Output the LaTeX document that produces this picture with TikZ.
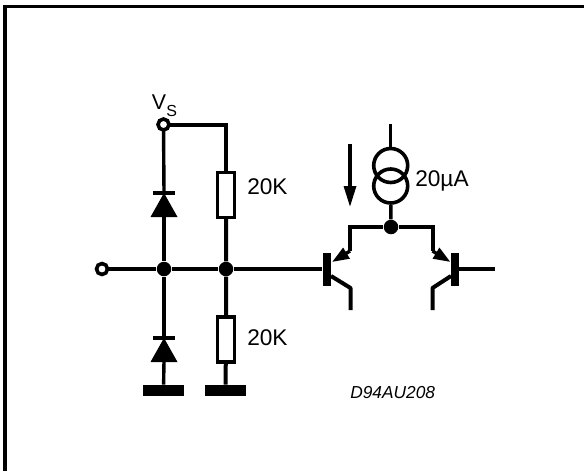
\documentclass[tikz,border=0pt]{standalone}
\usepackage{fontspec}
\setmainfont{Liberation Sans}
\usetikzlibrary{arrows.meta}
\tikzset{
  wire/.style={line width=4pt*0.75,line join=miter},
  thin wire/.style={line width=3.4pt*0.75},
  term/.style={circle,draw,fill=white,line width=3.6pt*0.75,minimum size=11pt*0.75,inner sep=0pt,outer sep=0pt},
  junction/.style={circle,fill=black,minimum size=14.5pt*0.75,inner sep=0pt},
  resistor/.style={rectangle,draw,fill=white,line width=3.4pt*0.75,minimum width=16.5pt*0.75,minimum height=45pt*0.75,inner sep=0pt},
  gnd/.style={rectangle,fill=black,minimum height=10.7pt*0.75,inner sep=0pt},
  basebar/.style={rectangle,fill=black,minimum width=8pt*0.75,minimum height=33pt*0.75,inner sep=0pt},
  source/.style={circle,draw,line width=3.6pt*0.75,minimum size=34pt*0.75,inner sep=0pt},
  lbl/.style={inner sep=0pt,anchor=west,font=\fontsize{17pt}{19pt}\selectfont},
  code/.style={inner sep=0pt,anchor=west,font=\fontsize{13pt}{15pt}\selectfont\itshape},
  emit/.style={line width=3.4pt*0.75,-{Triangle[length=17pt*0.75,width=12pt*0.75]}},
}
\newcommand{\diodeshape}[2]{%
  \fill (#1,#2) -- (#1+13.5,#2+24) -- (#1-13.5,#2+24) -- cycle;
  \fill (#1-11,#2-1.7) rectangle (#1+11,#2+1.7);
}
\begin{document}
\begin{tikzpicture}[x=0.75pt,y=-0.75pt]
\useasboundingbox (0,0) rectangle (584,471);
\draw[line width=3.3pt*0.75] (5,471) -- (5,6.5) -- (584,6.5);
% nodes
\node[term] (vs) at (163.5,124.5) {};
\node[term] (in) at (102,269) {};
\node[junction] (j1) at (164,269) {};
\node[junction] (j2) at (226,269) {};
\node[junction] (j3) at (391,227) {};
\coordinate (corner) at (226,124.5);
\node[resistor] (r1) at (226,195) {};
\node[resistor] (r2) at (226,339.5) {};
\node[gnd,minimum width=40.5pt*0.75] (g1) at (163.5,390.3) {};
\node[gnd,minimum width=41pt*0.75] (g2) at (225.5,390.3) {};
\coordinate (d1k) at (164,193);
\coordinate (d1a) at (164,216);
\coordinate (d2k) at (164,338);
\coordinate (d2a) at (164,361);
\node[basebar] (q1) at (326.7,269) {};
\node[basebar] (q2) at (455,269) {};
\node[source] (s1) at (390.7,165.5) {};
\node[source] (s2) at (390.7,186) {};
\coordinate (stop) at (390.7,124);
\coordinate (q1e) at (350,251);
\coordinate (q1et) at (332,262);
\coordinate (q1c) at (350.5,288);
\coordinate (q1cb) at (331,276);
\coordinate (q1o) at (350.5,310);
\coordinate (q1t) at (350,227);
\coordinate (q2e) at (432.5,251);
\coordinate (q2et) at (450.5,262);
\coordinate (q2t) at (432.5,227);
\coordinate (q2c) at (432.5,288);
\coordinate (q2cb) at (451,276);
\coordinate (q2o) at (432.5,310);
\coordinate (q2out) at (495,269);
\coordinate (a1) at (350,144);
\coordinate (a2) at (350,207);
% wires
\draw[thin wire] (vs) -- (d1k);
\draw[wire] (vs) -- (corner) -- (r1);
\draw[wire] (r1) -- (j2) -- (r2) -- (g2);
\draw[thin wire] (j1) -- (d1a);
\draw[thin wire] (j1) -- (d2k);
\draw[thin wire] (d2a) -- (g1);
\draw[wire] (in) -- (j1);
\draw[wire] (j1) -- (j2);
\draw[wire] (j2) -- (q1);
\draw[thin wire] (stop) -- (s1);
\draw[thin wire] (s2) -- (j3);
\draw[wire] (q1e) -- (q1t) -- (j3) -- (q2t) -- (q2e);
\draw[emit] (q1e) -- (q1et);
\draw[emit] (q2e) -- (q2et);
\draw[wire,line join=bevel] (q1cb) -- (q1c) -- (q1o);
\draw[wire,line join=bevel] (q2cb) -- (q2c) -- (q2o);
\draw[wire] (q2) -- (q2out);
\draw[line width=3.2pt*0.75,-{Triangle[length=21pt*0.75,width=12pt*0.75]}] (a1) -- (a2);
% diodes
\diodeshape{164}{193}
\diodeshape{164}{338}
% labels
\node[lbl] (l1) at (247,186.5) {20K};
\node[lbl] (l2) at (247,338) {20K};
\node[lbl] (l3) at (415,181) {20µA};
\node[code] (l4) at (350,393) {D94AU208};
\node[inner sep=0pt,anchor=base west,font=\fontsize{16pt}{18pt}\selectfont] (vl) at (151.5,109) {V};
\node[inner sep=0pt,anchor=base west,font=\fontsize{12pt}{14pt}\selectfont] (vsub) at (166,116) {S};
\end{tikzpicture}
\end{document}
